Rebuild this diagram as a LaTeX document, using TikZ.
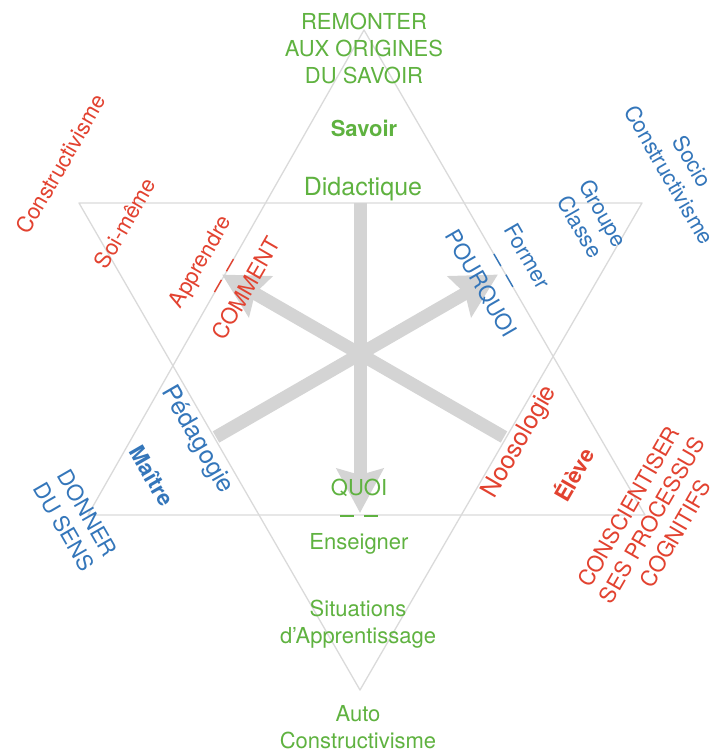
\documentclass[tikz,border=0pt]{standalone}
\usepackage{fontspec}
\setmainfont{TeX Gyre Heros}
\usetikzlibrary{arrows.meta}
\definecolor{vert}{RGB}{95,178,64}
\definecolor{rouge}{RGB}{226,66,48}
\definecolor{bleu}{RGB}{52,118,186}
\definecolor{gristrait}{RGB}{218,218,218}
\definecolor{grisfleche}{RGB}{212,212,212}
\newcommand{\sepdash}{\rule[6pt]{14pt}{1.4pt}\hspace{10pt}\rule[6pt]{14pt}{1.4pt}}
\begin{document}
\begin{tikzpicture}[x=1pt,y=-1pt,
  every node/.style={inner sep=0pt,align=center,font=\fontsize{22}{27}\selectfont},
  big/.style={font=\fontsize{25}{29}\selectfont},
  grasfont/.style={font=\fontsize{22}{27}\selectfont\bfseries},
  edge/.style={draw=gristrait,line width=1.3pt,line join=round},
  axe/.style={draw=grisfleche,line width=13pt,-{Stealth[length=44pt,width=46pt,inset=6pt]}}]
\useasboundingbox (0,0) rectangle (716,753);
% the two triangles
\draw[edge] (364,30) -- (645,515) -- (88,515) -- cycle;
\draw[edge] (79,203) -- (642,203) -- (360,690) -- cycle;
% arrows through the centre
\coordinate (didac) at (360,203);
\coordinate (quoi) at (360,513);
\coordinate (peda) at (216,437);
\coordinate (pourquoi) at (498,274.5);
\coordinate (noos) at (504,437);
\coordinate (comment) at (222,274.5);
\draw[axe] (didac) -- (quoi);
\draw[axe] (noos) -- (comment);
\draw[axe] (peda) -- (pourquoi);
% Savoir
\node[text=vert] (remonter) at (364,48) {REMONTER\\AUX ORIGINES\\DU SAVOIR};
\node[text=vert,grasfont] (savoir) at (364,128) {Savoir};
\node[text=vert,big] (didactique) at (363,189) {Didactique};
\node[text=vert] (quoiens) at (359,517) {QUOI\\\sepdash\\Enseigner};
\node[text=vert] (situations) at (358,624) {Situations\\d’Apprentissage};
\node[text=vert] (auto) at (358,727) {Auto\\Constructivisme};
% Eleve
\node[text=rouge,rotate=60] (constr) at (61,164) {Constructivisme};
\node[text=rouge,rotate=60] (soi) at (125,223) {Soi-même};
\node[text=rouge,rotate=60] (apprendre) at (223,275) {Apprendre\\\sepdash\\COMMENT};
\node[text=rouge,rotate=60,big] (noosologie) at (520,442) {Noosologie};
\node[text=rouge,rotate=60,grasfont] (eleve) at (573,474) {Élève};
\node[text=rouge,rotate=60] (conscient) at (652,520) {CONSCIENTISER\\SES PROCESSUS\\COGNITIFS};
% Maitre
\node[text=bleu,rotate=-60] (socio) at (681,168) {Socio\\Constructivisme};
\node[text=bleu,rotate=-60] (groupe) at (592,220) {Groupe\\Classe};
\node[text=bleu,rotate=-60] (former) at (504,270) {Former\\\sepdash\\POURQUOI};
\node[text=bleu,rotate=-60,big] (pedagogie) at (197,440) {Pédagogie};
\node[text=bleu,rotate=-60,grasfont] (maitre) at (152,476) {Maître};
\node[text=bleu,rotate=-60] (donner) at (76,520) {DONNER\\DU SENS};
\end{tikzpicture}
\end{document}
